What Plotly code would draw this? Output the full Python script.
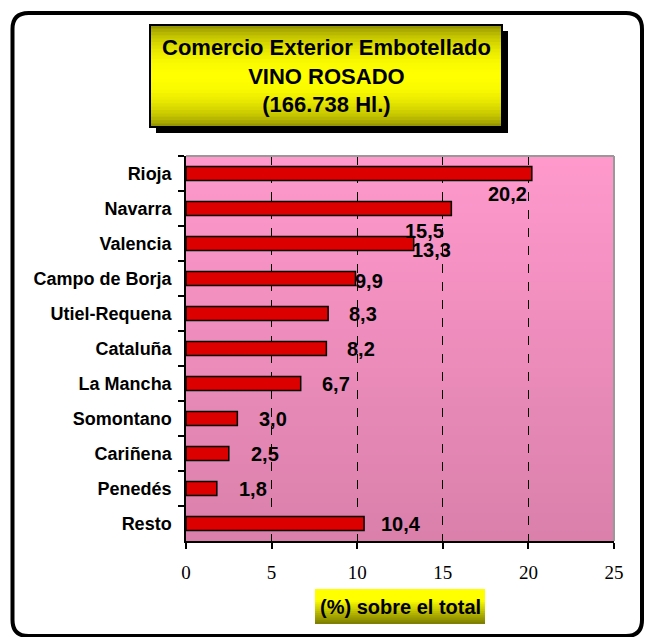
import math
import plotly.graph_objects as go

# ---------------- data ----------------
regions = ["Rioja", "Navarra", "Valencia", "Campo de Borja", "Utiel-Requena",
           "Cataluña", "La Mancha", "Somontano", "Cariñena", "Penedés", "Resto"]
shares = [20.2, 15.5, 13.3, 9.9, 8.3, 8.2, 6.7, 3.0, 2.5, 1.8, 10.4]
value_labels = ["20,2", "15,5", "13,3", "9,9", "8,3", "8,2", "6,7", "3,0", "2,5", "1,8", "10,4"]
x_ticks = [0, 5, 10, 15, 20, 25]
title_lines = ["Comercio Exterior Embotellado", "VINO ROSADO", "(166.738 Hl.)"]
x_title = "(%) sobre el total"

# ---------------- layout helpers (pixels -> paper) ----------------
W, H = 646, 637
L, R, T, B = 186, 614, 156, 541


def px(x):
    return (x - L) / (R - L)


def py(y):
    return (B - y) / (B - T)


def lerp(c1, c2, f):
    return "rgb(%d,%d,%d)" % tuple(round(a + (b - a) * f) for a, b in zip(c1, c2))


# label placement style: (xanchor, xshift px, yshift px)
label_place = [("right", -3, -20), ("right", -5, -22), ("left", -4, -6), ("left", -2, -2),
               ("left", 19, 0), ("left", 19, 0), ("left", 19, 0), ("left", 20, 0),
               ("left", 20, 0), ("left", 20, 0), ("left", 15, 0)]

FONT = "Liberation Sans, Arial, sans-serif"
SERIF = "Liberation Serif, Times New Roman, serif"

fig = go.Figure()
fig.add_trace(go.Bar(
    x=shares, y=regions, orientation="h",
    marker=dict(color="#DD0000", line=dict(color="black", width=1.5)),
    hoverinfo="x+y",
))

shapes = []
OV = 1.5  # strip overlap in px to avoid seams

# pink gradient plot background
N = 40
top_c, bot_c = (255, 153, 204), (218, 128, 171)
for i in range(N):
    ya = T + (B - T) * i / N
    yb = T + (B - T) * (i + 1) / N
    shapes.append(dict(type="rect", xref="paper", yref="paper",
                       x0=0, x1=1, y0=py(min(B, yb + OV)), y1=py(ya),
                       fillcolor=lerp(top_c, bot_c, i / (N - 1)),
                       line=dict(width=0), layer="below"))

# outer rounded frame
fx0, fx1, fy0, fy1 = 12.5, 642, 13, 636
r = 16
rx, ry = r / (R - L), r / (B - T)
X0, X1, Y0, Y1 = px(fx0), px(fx1), py(fy1), py(fy0)
frame_path = (f"M {X0 + rx},{Y1} L {X1 - rx},{Y1} Q {X1},{Y1} {X1},{Y1 - ry} "
              f"L {X1},{Y0 + ry} Q {X1},{Y0} {X1 - rx},{Y0} "
              f"L {X0 + rx},{Y0} Q {X0},{Y0} {X0},{Y0 + ry} "
              f"L {X0},{Y1 - ry} Q {X0},{Y1} {X0 + rx},{Y1} Z")
shapes.append(dict(type="path", xref="paper", yref="paper", path=frame_path,
                   line=dict(color="black", width=4), layer="below"))

# title box: shadow, gradient, border
tb = (150, 502, 25, 127)
shapes.append(dict(type="rect", xref="paper", yref="paper",
                   x0=px(tb[0] + 6), x1=px(tb[1] + 6), y0=py(tb[3] + 6), y1=py(tb[2] + 6),
                   fillcolor="black", line=dict(width=0), layer="below"))
olive, yellow = (128, 128, 0), (255, 255, 0)
M = 30
for i in range(M):
    t = (i + 0.5) / M
    f = math.sin(math.pi * t) ** 0.6
    ya = tb[2] + (tb[3] - tb[2]) * i / M
    yb = tb[2] + (tb[3] - tb[2]) * (i + 1) / M
    shapes.append(dict(type="rect", xref="paper", yref="paper",
                       x0=px(tb[0]), x1=px(tb[1]), y0=py(min(tb[3], yb + OV)), y1=py(ya),
                       fillcolor=lerp(olive, yellow, f), line=dict(width=0), layer="below"))
shapes.append(dict(type="rect", xref="paper", yref="paper",
                   x0=px(tb[0]), x1=px(tb[1]), y0=py(tb[3]), y1=py(tb[2]),
                   line=dict(color="black", width=2), layer="below"))

# x-title box gradient
xb = (315, 485, 589, 624)
K = 16
for i in range(K):
    ya = xb[2] + (xb[3] - xb[2]) * i / K
    yb = xb[2] + (xb[3] - xb[2]) * (i + 1) / K
    f = 1 - max(0.0, (i / (K - 1) - 0.3) / 0.7)
    shapes.append(dict(type="rect", xref="paper", yref="paper",
                       x0=px(xb[0]), x1=px(xb[1]), y0=py(min(xb[3], yb + OV)), y1=py(ya),
                       fillcolor=lerp(olive, yellow, f), line=dict(width=0), layer="below"))

# gray plot border on top and right
shapes.append(dict(type="line", xref="paper", yref="paper", x0=0, x1=1, y0=1, y1=1,
                   line=dict(color="#999999", width=2), layer="above"))
shapes.append(dict(type="line", xref="paper", yref="paper", x0=1, x1=1, y0=0, y1=1,
                   line=dict(color="#999999", width=2), layer="above"))

annotations = [
    dict(xref="paper", yref="paper", x=px(326), y=py(76), showarrow=False,
         text="<br>".join(title_lines), xanchor="center", yanchor="middle",
         font=dict(family=FONT, size=22, color="black", weight="bold")),
    dict(xref="paper", yref="paper", x=px(400), y=py(607), showarrow=False,
         text=x_title, xanchor="center", yanchor="middle",
         font=dict(family=FONT, size=20, color="black", weight="bold")),
]
for reg, val, lab, (anc, xs, ys) in zip(regions, shares, value_labels, label_place):
    annotations.append(dict(xref="x", yref="y", x=val, y=reg, text=lab, showarrow=False,
                            xanchor=anc, yanchor="middle", xshift=xs, yshift=ys,
                            font=dict(family=FONT, size=20, color="black", weight="bold")))

fig.update_layout(
    width=W, height=H,
    margin=dict(l=L, r=W - R, t=T, b=H - B, pad=0),
    paper_bgcolor="white", plot_bgcolor="#F090C0",
    showlegend=False, bargap=0.6,
    shapes=shapes, annotations=annotations,
    xaxis=dict(range=[0, 25], tickvals=x_ticks, ticks="outside", ticklen=6,
               tickcolor="black", tickwidth=1.5,
               showline=True, linecolor="black", linewidth=1.5,
               showgrid=True, gridcolor="black", griddash="dash", gridwidth=1,
               zeroline=False, ticklabelstandoff=7,
               tickfont=dict(family=SERIF, size=19, color="black")),
    yaxis=dict(type="category", categoryorder="array", categoryarray=regions,
               range=[len(regions) - 0.5, -0.5], autorange=False,
               ticks="outside", ticklen=6, tickson="boundaries",
               tickcolor="black", tickwidth=1.5,
               showline=True, linecolor="black", linewidth=1.5, showgrid=False,
               ticklabelstandoff=9,
               tickfont=dict(family=FONT, size=18, color="black", weight="bold")),
)

fig.write_html("out.html", config={"displayModeBar": False},
               post_script="document.body.style.margin='0';document.body.style.overflow='hidden';")
